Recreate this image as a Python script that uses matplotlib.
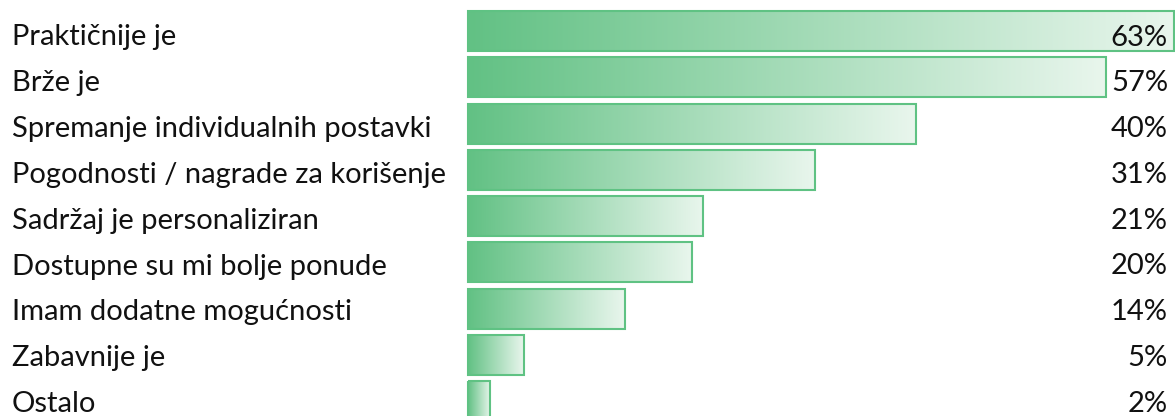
import matplotlib
matplotlib.use("Agg")
import matplotlib.pyplot as plt
import matplotlib.transforms as mtransforms
from matplotlib.patches import Rectangle
from matplotlib.colors import LinearSegmentedColormap
import numpy as np

categories = [
    "Praktičnije je",
    "Brže je",
    "Spremanje individualnih postavki",
    "Pogodnosti / nagrade za korišenje",
    "Sadržaj je personaliziran",
    "Dostupne su mi bolje ponude",
    "Imam dodatne mogućnosti",
    "Zabavnije je",
    "Ostalo",
]
values = [63, 57, 40, 31, 21, 20, 14, 5, 2]
value_labels = ["63%", "57%", "40%", "31%", "21%", "20%", "14%", "5%", "2%"]

W, H, DPI = 1175, 416, 100
fig = plt.figure(figsize=(W / DPI, H / DPI), dpi=DPI)
ax = fig.add_axes([0, 0, 1, 1])

x0_px = 468.0
px_per = 11.2
pitch = 46.3
first_c = 31.0
bar_h = 40.0 / pitch
text_base0 = 45.5
text_pitch = 45.8

cmap = LinearSegmentedColormap.from_list("g", ["#62c184", "#e9f6ed"])
grad = np.linspace(0, 1, 256).reshape(1, -1)
edge = "#5fc283"

font = "Lato"
fs = 21
blend = mtransforms.blended_transform_factory(ax.transAxes, ax.transData)

for i, (cat, v, lab) in enumerate(zip(categories, values, value_labels)):
    top = i - bar_h / 2
    bot = i + bar_h / 2
    im = ax.imshow(grad, cmap=cmap, aspect="auto", extent=(0, v, bot, top),
                   interpolation="bilinear", zorder=1)
    rect = Rectangle((0, top), v, bar_h, facecolor="none", edgecolor=edge,
                     linewidth=1.5, zorder=2)
    ax.add_patch(rect)
    im.set_clip_path(rect)
    ty = (text_base0 + text_pitch * i - first_c) / pitch
    ax.text(12 / W, ty, cat, transform=blend, ha="left", va="baseline",
            fontsize=fs, family=font, color="#111111")
    ax.text(1168 / W, ty, lab, transform=blend, ha="right", va="baseline",
            fontsize=fs, family=font, color="#111111")

ax.set_xlim(-x0_px / px_per, (W - x0_px) / px_per)
ax.set_ylim((H - first_c) / pitch, -first_c / pitch)
ax.axis("off")

fig.savefig("out.png", dpi=DPI)
